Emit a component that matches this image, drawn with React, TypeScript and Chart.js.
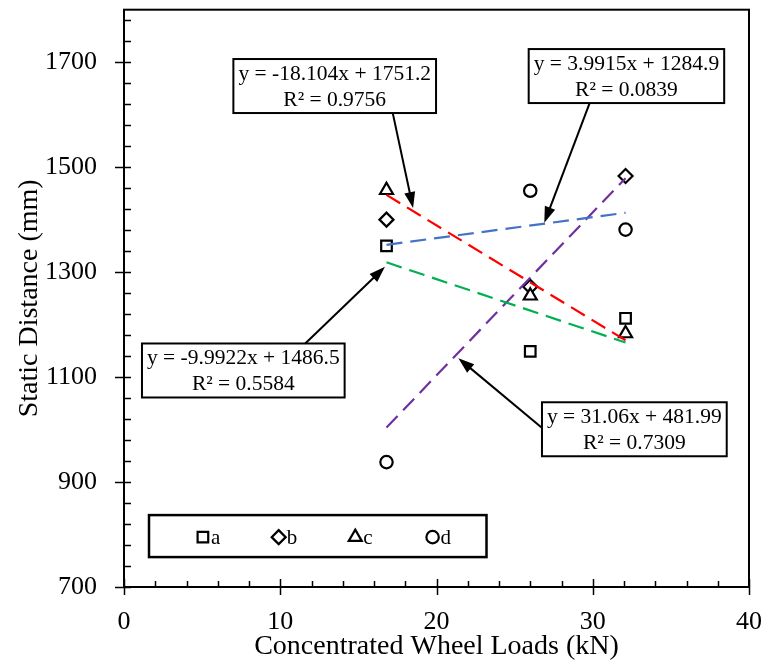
import React, { useEffect, useRef } from "react";
import { Chart, registerables } from "chart.js";

Chart.register(...registerables);

// ---- data ----
const loads = [16.8, 26, 32.1];
const seriesA = [1350, 1149, 1212];
const seriesB = [1400, 1272, 1483];
const seriesC = [1456, 1255, 1183];
const seriesD = [938, 1455, 1381];
const seriesNames = ["a", "b", "c", "d"];
const trendSlopes = [-9.9922, 3.9915, -18.104, 31.06];
const trendIntercepts = [1486.5, 1284.9, 1751.2, 481.99];
const trendEquations = [
  "y = -9.9922x + 1486.5",
  "y = 3.9915x + 1284.9",
  "y = -18.104x + 1751.2",
  "y = 31.06x + 481.99",
];
const trendR2 = ["R² = 0.5584", "R² = 0.0839", "R² = 0.9756", "R² = 0.7309"];
const xTicks = [0, 10, 20, 30, 40];
const yTicks = [700, 900, 1100, 1300, 1500, 1700];

// ---- styling / placement ----
const FONT = '"Liberation Serif", "Times New Roman", serif';
const pointStyles = ["rect", "rectRot", "triangle", "circle"];
const pointRadii = [7.5, 7, 7.5, 6.2];
const scatterOrder = [3, 2, 1, 4];
const trendColors = ["#00B050", "#4472C4", "#FF0000", "#7030A0"];

// label boxes: left edge and top in data coordinates; arrow from/to in data coords
const labelBoxes = [
  { x0: 1.15, yTop: 1164, from: [11.6, 1164], to: [16.7, 1310] },
  { x0: 25.9, yTop: 1725, from: [29.8, 1622], to: [26.9, 1394] },
  { x0: 7.0, yTop: 1706, from: [17.2, 1603], to: [18.5, 1422] },
  { x0: 26.75, yTop: 1052, from: [26.8, 1002], to: [21.4, 1136] },
];
const legendBox = { x0: 1.6, x1: 23.2, yTop: 837, yBottom: 757, yMid: 795, items: [5.05, 9.9, 14.8, 19.75] };

function drawMarker(ctx: CanvasRenderingContext2D, style: string, r: number, cx: number, cy: number) {
  ctx.beginPath();
  if (style === "rect") {
    const s = Math.SQRT1_2 * r;
    ctx.rect(cx - s, cy - s, 2 * s, 2 * s);
  } else if (style === "rectRot") {
    ctx.moveTo(cx, cy - r);
    ctx.lineTo(cx + r, cy);
    ctx.lineTo(cx, cy + r);
    ctx.lineTo(cx - r, cy);
    ctx.closePath();
  } else if (style === "triangle") {
    let a = 0;
    ctx.moveTo(cx + Math.sin(a) * r, cy - Math.cos(a) * r);
    a += (2 * Math.PI) / 3;
    ctx.lineTo(cx + Math.sin(a) * r, cy - Math.cos(a) * r);
    a += (2 * Math.PI) / 3;
    ctx.lineTo(cx + Math.sin(a) * r, cy - Math.cos(a) * r);
    ctx.closePath();
  } else {
    ctx.arc(cx, cy, r, 0, Math.PI * 2);
  }
  ctx.fillStyle = "#fff";
  ctx.fill();
  ctx.lineWidth = 2.2;
  ctx.strokeStyle = "#000";
  ctx.stroke();
}

const overlayPlugin = {
  id: "overlay",
  afterDatasetsDraw(chart: any) {
    const { ctx, chartArea: a, scales } = chart;
    const xs = scales.x;
    const ys = scales.y;
    ctx.save();
    // frame
    ctx.strokeStyle = "#000";
    ctx.lineWidth = 2;
    ctx.strokeRect(a.left, a.top, a.right - a.left, a.bottom - a.top);

    // x ticks
    ctx.lineWidth = 1.5;
    for (let i = 0; i <= 20; i++) {
      const v = i * 2;
      const px = Math.round(xs.getPixelForValue(v)) + 0.5;
      const major = v % 10 === 0;
      ctx.beginPath();
      ctx.moveTo(px, a.bottom - (major ? 8 : 6));
      ctx.lineTo(px, a.bottom + (major ? 8 : 0));
      ctx.stroke();
    }
    // y ticks
    for (let i = 0; i <= 27; i++) {
      const v = 700 + i * 40;
      const py = Math.round(ys.getPixelForValue(v)) + 0.5;
      const major = (v - 700) % 200 === 0;
      ctx.beginPath();
      ctx.moveTo(a.left - (major ? 9 : 0), py);
      ctx.lineTo(a.left + 7, py);
      ctx.stroke();
    }

    // legend
    const lx0 = xs.getPixelForValue(legendBox.x0);
    const lx1 = xs.getPixelForValue(legendBox.x1);
    const ly0 = ys.getPixelForValue(legendBox.yTop);
    const ly1 = ys.getPixelForValue(legendBox.yBottom);
    ctx.fillStyle = "#fff";
    ctx.fillRect(lx0, ly0, lx1 - lx0, ly1 - ly0);
    ctx.lineWidth = 2.5;
    ctx.strokeStyle = "#000";
    ctx.strokeRect(lx0, ly0, lx1 - lx0, ly1 - ly0);
    const lyMid = ys.getPixelForValue(legendBox.yMid);
    legendBox.items.forEach((xv, i) => {
      const cx = xs.getPixelForValue(xv);
      drawMarker(ctx, pointStyles[i], pointRadii[i], cx, lyMid);
      ctx.fillStyle = "#000";
      ctx.font = `21px ${FONT}`;
      ctx.textAlign = "left";
      ctx.textBaseline = "alphabetic";
      ctx.fillText(seriesNames[i], cx + 8, lyMid + 7);
    });

    // trend label boxes + arrows
    labelBoxes.forEach((b, i) => {
      ctx.font = `21.5px ${FONT}`;
      const tw = Math.max(ctx.measureText(trendEquations[i]).width, ctx.measureText(trendR2[i]).width);
      const bx0 = xs.getPixelForValue(b.x0);
      const bx1 = bx0 + tw + 10;
      const by0 = ys.getPixelForValue(b.yTop);
      const h = 54;
      // arrow
      const fx = xs.getPixelForValue(b.from[0]);
      const fy = ys.getPixelForValue(b.from[1]);
      const tx = xs.getPixelForValue(b.to[0]);
      const ty = ys.getPixelForValue(b.to[1]);
      const ang = Math.atan2(ty - fy, tx - fx);
      const headLen = 16;
      const headW = 5.5;
      ctx.strokeStyle = "#000";
      ctx.lineWidth = 2;
      ctx.beginPath();
      ctx.moveTo(fx, fy);
      ctx.lineTo(tx - Math.cos(ang) * headLen * 0.8, ty - Math.sin(ang) * headLen * 0.8);
      ctx.stroke();
      ctx.beginPath();
      ctx.moveTo(tx, ty);
      ctx.lineTo(
        tx - Math.cos(ang) * headLen + Math.sin(ang) * headW,
        ty - Math.sin(ang) * headLen - Math.cos(ang) * headW
      );
      ctx.lineTo(
        tx - Math.cos(ang) * headLen - Math.sin(ang) * headW,
        ty - Math.sin(ang) * headLen + Math.cos(ang) * headW
      );
      ctx.closePath();
      ctx.fillStyle = "#000";
      ctx.fill();
      // box
      ctx.fillStyle = "#fff";
      ctx.fillRect(bx0, by0, bx1 - bx0, h);
      ctx.lineWidth = 2;
      ctx.strokeRect(bx0, by0, bx1 - bx0, h);
      ctx.fillStyle = "#000";
      ctx.textAlign = "center";
      ctx.textBaseline = "alphabetic";
      const cx = (bx0 + bx1) / 2;
      ctx.fillText(trendEquations[i], cx, by0 + 21);
      ctx.fillText(trendR2[i], cx, by0 + 47);
    });
    ctx.restore();
  },
};

export default function App() {
  const ref = useRef<HTMLCanvasElement>(null);
  useEffect(() => {
    const canvas = ref.current;
    if (!canvas) return;
    const series = [seriesA, seriesB, seriesC, seriesD];
    const scatterSets = series.map((vals, i) => ({
      type: "scatter" as const,
      label: seriesNames[i],
      data: loads.map((x, j) => ({ x, y: vals[j] })),
      pointStyle: pointStyles[i] as any,
      pointRadius: pointRadii[i],
      pointBackgroundColor: "#fff",
      pointBorderColor: "#000",
      pointBorderWidth: 2.2,
      showLine: false,
      order: scatterOrder[i],
    }));
    const xFirst = loads[0];
    const xLast = loads[loads.length - 1];
    const trendSets = trendSlopes.map((m, i) => ({
      type: "line" as const,
      label: "trend " + seriesNames[i],
      data: [
        { x: xFirst, y: m * xFirst + trendIntercepts[i] },
        { x: xLast, y: m * xLast + trendIntercepts[i] },
      ],
      borderColor: trendColors[i],
      borderWidth: 2.2,
      borderDash: [16, 8],
      pointRadius: 0,
      fill: false,
      order: 0,
    }));
    const chart = new Chart(canvas, {
      type: "scatter",
      data: { datasets: [...trendSets, ...scatterSets] as any },
      options: {
        animation: false,
        responsive: false,
        devicePixelRatio: 1,
        layout: { padding: { top: 9, right: 16, left: 0, bottom: 0 } },
        plugins: { legend: { display: false }, tooltip: { enabled: false } },
        scales: {
          x: {
            type: "linear",
            min: 0,
            max: 40,
            afterBuildTicks: (s: any) => {
              s.ticks = xTicks.map((v) => ({ value: v }));
            },
            afterFit: (s: any) => {
              s.height = 76;
              s.paddingLeft = 0;
              s.paddingRight = 0;
            },
            grid: { display: false, drawTicks: false },
            border: { display: false },
            ticks: {
              color: "#000",
              font: { family: FONT, size: 26 },
              padding: 20,
              maxRotation: 0,
              callback: (v: any) => String(v),
            },
            title: {
              display: true,
              text: "Concentrated Wheel Loads (kN)",
              color: "#000",
              font: { family: FONT, size: 28, lineHeight: 1.2 },
              padding: { top: 0, bottom: 0 },
            },
          },
          y: {
            type: "linear",
            min: 700,
            max: 1800,
            afterBuildTicks: (s: any) => {
              s.ticks = yTicks.map((v) => ({ value: v }));
            },
            afterFit: (s: any) => {
              s.width = 124;
              s.paddingTop = 0;
              s.paddingBottom = 0;
            },
            grid: { display: false, drawTicks: false },
            border: { display: false },
            ticks: {
              color: "#000",
              font: { family: FONT, size: 26 },
              padding: 27,
              callback: (v: any) => String(v),
            },
            title: {
              display: true,
              text: "Static Distance (mm)",
              color: "#000",
              font: { family: FONT, size: 28, lineHeight: 1.2 },
              padding: { top: 13, bottom: 0 },
            },
          },
        },
      },
      plugins: [overlayPlugin],
    } as any);
    return () => chart.destroy();
  }, []);
  return (
    <div style={{ position: "absolute", left: 0, top: 0, width: 765, height: 663, background: "#fff" }}>
      <canvas ref={ref} width={765} height={663} style={{ display: "block" }} />
    </div>
  );
}
